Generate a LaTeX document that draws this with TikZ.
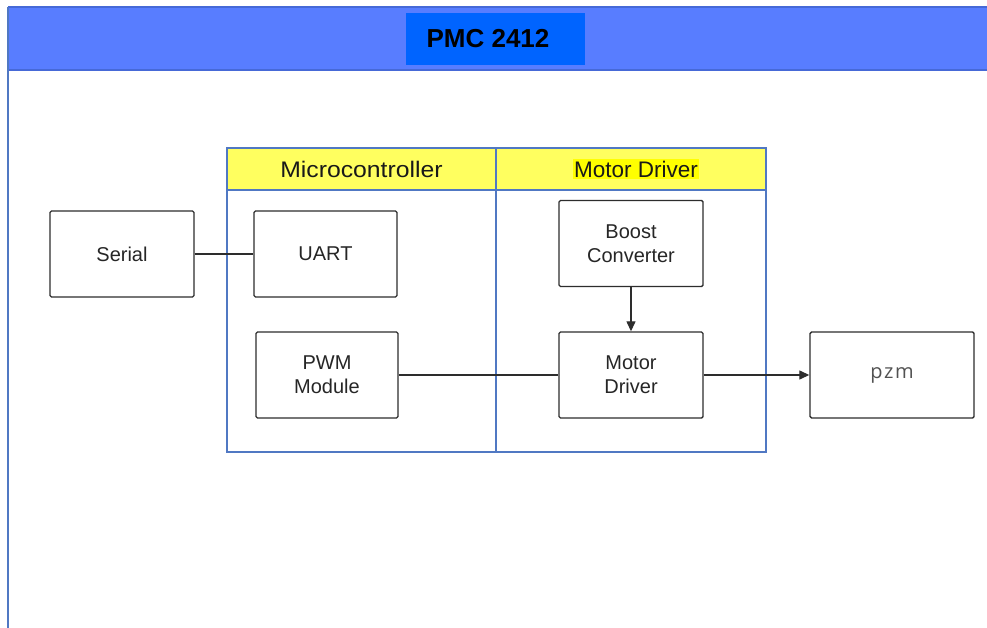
\documentclass[tikz,border=0pt]{standalone}
\usepackage{fontspec}
\usepackage{graphicx}
\setmainfont{Liberation Sans}
\newfontfamily\pzmfont[LetterSpace=8]{Open Sans}
\usetikzlibrary{arrows.meta}
\definecolor{barblue}{RGB}{88,125,255}
\definecolor{barline}{RGB}{70,105,215}
\definecolor{titleblue}{RGB}{0,100,255}
\definecolor{frameblue}{RGB}{80,120,195}
\definecolor{hdryellow}{RGB}{255,255,95}
\definecolor{hiyellow}{RGB}{255,255,0}
\definecolor{boxline}{RGB}{45,45,45}
\tikzset{
  blk/.style={draw=boxline, line width=1.4pt, rounded corners=1.5pt, fill=white,
    minimum width=144pt, minimum height=86pt, inner sep=0pt, align=center,
    font=\fontsize{20}{24}\selectfont, text=black!85},
  hdr/.style={draw=frameblue, line width=1.2pt, fill=hdryellow, minimum height=42pt,
    inner sep=0pt, font=\fontsize{22.5}{26}\selectfont, text=black!90},
  conn/.style={draw=boxline, line width=1.3pt},
  arr/.style={conn, -{Triangle[length=10pt,width=9pt]}}
}
\begin{document}
\begin{tikzpicture}[x=1pt,y=-1pt]
\useasboundingbox (0,0) rectangle (987,628);
\fill[white] (0,0) rectangle (987,628);
% top bar
\fill[barblue] (8,7) rectangle (987,70);
\draw[barline, line width=1.5pt] (8,7) -- (987,7);
\draw[barline, line width=1.5pt] (8,70) -- (987,70);
\draw[frameblue, line width=1.5pt] (8,7) -- (8,628);
\node[fill=titleblue, minimum width=179pt, minimum height=52pt, inner sep=0pt] (title) at (495.5,39) {};
\node[inner sep=0pt, font=\bfseries\fontsize{26}{30}\selectfont] (titletext) at (488,39) {PMC 2412};
% container
\node[draw=frameblue, line width=1.2pt, minimum width=269pt, minimum height=262pt, inner sep=0pt] (mcbody) at (361.5,321) {};
\node[draw=frameblue, line width=1.2pt, minimum width=270pt, minimum height=262pt, inner sep=0pt] (mdbody) at (631,321) {};
\node[hdr, minimum width=269pt] (mch) at (361.5,169) {\scalebox{1.1}[1]{Microcontroller}};
\node[hdr, minimum width=270pt] (mdh) at (631,169) {};
\node[fill=hiyellow, inner xsep=1pt, inner ysep=1.5pt, font=\fontsize{22.5}{26}\selectfont, text=black!90] (mdhtext) at (636,169) {Motor Driver};
% blocks
\node[blk] (serial) at (122,254) {Serial};
\node[blk, minimum width=143pt] (uart) at (325.5,254) {UART};
\node[blk, minimum width=142pt] (pwm) at (327,375) {PWM\\Module};
\node[blk] (boost) at (631,243.5) {Boost\\Converter};
\node[blk] (mdrv) at (631,375) {Motor\\Driver};
\node[blk, minimum width=164pt, font=\pzmfont\fontsize{20}{24}\selectfont, text=black!68] (pzm) at (892,375) {\raisebox{4pt}{pzm}};
% connectors
\draw[conn] (serial.east) -- (uart.west);
\draw[conn] (pwm.east) -- (mdrv.west);
\draw[arr] (boost.south) -- (mdrv.north);
\draw[arr] (mdrv.east) -- (pzm.west);
\end{tikzpicture}
\end{document}
